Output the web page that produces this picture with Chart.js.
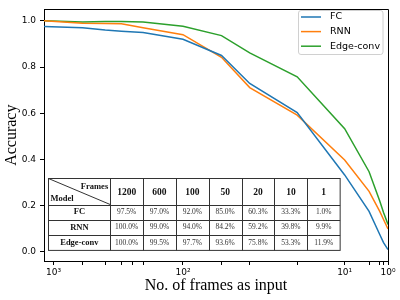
<!DOCTYPE html>
<html>
<head>
<meta charset="utf-8">
<script src="https://cdn.jsdelivr.net/npm/chart.js@4.4.1/dist/chart.umd.min.js"></script>
<style>
  html, body { margin: 0; padding: 0; background: #fff; }
</style>
</head>
<body>
<canvas id="grafico" width="400" height="300"></canvas>
<script>
// Frames at which the curves are sampled
const frames  = [1200, 600, 400, 300, 200, 100, 50, 30, 20, 10, 5, 3, 2, 1];
const fcAcc   = [0.975, 0.970, 0.960, 0.955, 0.950, 0.920, 0.850, 0.729, 0.603, 0.333, 0.175, 0.075, 0.040, 0.010];
const rnnAcc  = [1.000, 0.990, 0.988, 0.987, 0.970, 0.940, 0.842, 0.711, 0.592, 0.398, 0.262, 0.175, 0.140, 0.099];
const edgeAcc = [1.000, 0.995, 0.997, 0.997, 0.995, 0.977, 0.936, 0.861, 0.758, 0.533, 0.347, 0.220, 0.170, 0.119];

// Inset table
const tableFrames = [1200, 600, 100, 50, 20, 10, 1];
const tableModels = ['FC', 'RNN', 'Edge-conv'];
const tableFC   = ['97.5%', '97.0%', '92.0%', '85.0%', '60.3%', '33.3%', '1.0%'];
const tableRNN  = ['100.0%', '99.0%', '94.0%', '84.2%', '59.2%', '39.8%', '9.9%'];
const tableEdge = ['100.0%', '99.5%', '97.7%', '93.6%', '75.8%', '53.3%', '11.9%'];

// The x axis of the original figure is a warped, reversed log axis:
// anchor frames -> position along the axis (0 = left, 1 = right)
const axisFrames = [1200, 1000, 600, 400, 300, 250, 200, 100, 50, 30, 20, 10, 5, 3, 2, 1];
const axisPos    = [0, 0.028, 0.112, 0.178, 0.225, 0.258, 0.288, 0.404, 0.516, 0.598, 0.736, 0.874, 0.945, 0.976, 0.987, 1];
const majorFrames = [1000, 100, 10, 1];
const majorLabels = ['10³', '10²', '10¹', '10⁰'];
const tickFrames  = axisFrames.slice(1);
const yTicks = [0, 0.2, 0.4, 0.6, 0.8, 1.0];

const colores = ['#1f77b4', '#ff7f0e', '#2ca02c'];

// frames -> axis position, interpolating in log space between anchors
function framePos(f) {
    const lf = Math.log10(f);
    for (let i = 0; i < axisFrames.length - 1; i++) {
        const a = Math.log10(axisFrames[i]);
        const b = Math.log10(axisFrames[i + 1]);
        if (lf <= a && lf >= b) {
            return axisPos[i] + (axisPos[i + 1] - axisPos[i]) * (a - lf) / (a - b);
        }
    }
    return lf > Math.log10(axisFrames[0]) ? 0 : 1;
}

function serie(label, valores, color) {
    return {
        label: label,
        data: frames.map((f, i) => ({ x: framePos(f), y: valores[i] })),
        borderColor: color,
        backgroundColor: color,
        borderWidth: 1.5,
        pointRadius: 0,
        tension: 0,
        fill: false
    };
}

// Draws the top/right spines, the legend box and the inset table
const extras = {
    id: 'extras',
    afterDatasetsDraw(chart) {
        const ctx = chart.ctx;
        const a = chart.chartArea;
        ctx.save();

        // top and right spines
        ctx.strokeStyle = '#000';
        ctx.lineWidth = 1;
        ctx.beginPath();
        ctx.moveTo(Math.round(a.left) + 0.5, Math.round(a.top) + 0.5);
        ctx.lineTo(Math.round(a.right) + 0.5, Math.round(a.top) + 0.5);
        ctx.lineTo(Math.round(a.right) + 0.5, Math.round(a.bottom) + 0.5);
        ctx.stroke();

        // legend
        const lx = 298.5, ly = 10.5, lw = 84.5, lh = 44;
        ctx.beginPath();
        ctx.roundRect(lx, ly, lw, lh, 2.5);
        ctx.fillStyle = 'rgba(255,255,255,0.8)';
        ctx.fill();
        ctx.strokeStyle = '#d0d0d0';
        ctx.stroke();
        ctx.font = '9.5px "DejaVu Sans"';
        ctx.textBaseline = 'middle';
        ctx.textAlign = 'left';
        chart.data.datasets.forEach((ds, i) => {
            const y = 17 + i * 14.6;
            ctx.strokeStyle = ds.borderColor;
            ctx.lineWidth = 1.5;
            ctx.beginPath();
            ctx.moveTo(301, y);
            ctx.lineTo(321, y);
            ctx.stroke();
            ctx.fillStyle = '#000';
            ctx.fillText(ds.label, 330, y);
        });

        // inset table
        const tx = 48.5, ty = 178.5, c0 = 61.7, cw = 32.85, hh = 26, rh = 15.3;
        const tw = c0 + cw * tableFrames.length;
        const th = hh + rh * tableModels.length;
        ctx.fillStyle = '#fff';
        ctx.fillRect(tx, ty, tw, th);

        ctx.lineWidth = 1;
        ctx.strokeStyle = '#333';
        ctx.strokeRect(tx, ty, tw, th);
        ctx.beginPath();
        for (let j = 0; j < tableFrames.length; j++) {
            const x = Math.round(tx + c0 + j * cw) + 0.5;
            ctx.moveTo(x, ty);
            ctx.lineTo(x, ty + th);
        }
        for (let r = 0; r < tableModels.length; r++) {
            const y = Math.round(ty + hh + r * rh) + 0.5;
            ctx.moveTo(tx, y);
            ctx.lineTo(tx + tw, y);
        }
        ctx.stroke();
        // diagonal header cell
        ctx.beginPath();
        ctx.moveTo(tx, ty);
        ctx.lineTo(tx + c0, ty + hh);
        ctx.stroke();

        ctx.fillStyle = '#111';
        ctx.font = 'bold 8.5px "Liberation Serif"';
        ctx.textAlign = 'right';
        ctx.fillText('Frames', tx + c0 - 2, ty + 8);
        ctx.textAlign = 'left';
        ctx.fillText('Model', tx + 2, ty + hh - 6);

        ctx.textAlign = 'center';
        ctx.font = 'bold 9.5px "Liberation Serif"';
        tableFrames.forEach((f, j) => {
            ctx.fillText(String(f), tx + c0 + (j + 0.5) * cw, ty + hh / 2 + 1);
        });

        const filas = [tableFC, tableRNN, tableEdge];
        tableModels.forEach((m, r) => {
            const y = ty + hh + (r + 0.5) * rh;
            ctx.font = 'bold 8.5px "Liberation Serif"';
            ctx.fillStyle = '#111';
            ctx.fillText(m, tx + c0 / 2, y);
            ctx.font = '7.5px "Liberation Serif"';
            ctx.fillStyle = '#333';
            filas[r].forEach((v, j) => {
                ctx.fillText(v, tx + c0 + (j + 0.5) * cw, y);
            });
        });

        ctx.restore();
    }
};

const canvas = document.getElementById('grafico');
const miGrafico = new Chart(canvas.getContext('2d'), {
    type: 'line',
    data: {
        datasets: [
            serie('FC', fcAcc, colores[0]),
            serie('RNN', rnnAcc, colores[1]),
            serie('Edge-conv', edgeAcc, colores[2])
        ]
    },
    options: {
        responsive: false,
        animation: false,
        devicePixelRatio: 1,
        layout: { padding: { top: 5, right: 12, left: 0, bottom: 0 } },
        plugins: {
            legend: { display: false },
            tooltip: { enabled: false }
        },
        scales: {
            x: {
                type: 'linear',
                min: 0,
                max: 1,
                afterBuildTicks: axis => {
                    axis.ticks = tickFrames.map(f => ({ value: framePos(f) }));
                },
                afterFit: axis => { axis.height = 39; },
                ticks: {
                    autoSkip: false,
                    maxRotation: 0,
                    padding: 2,
                    color: '#000',
                    font: { family: 'DejaVu Sans', size: 9 },
                    callback: (v, i) => {
                        const k = majorFrames.indexOf(tickFrames[i]);
                        return k >= 0 ? majorLabels[k] : '';
                    }
                },
                grid: {
                    drawOnChartArea: false,
                    tickLength: 4,
                    tickColor: '#000'
                },
                border: { color: '#000', width: 1 },
                title: {
                    display: true,
                    text: 'No. of frames as input',
                    color: '#000',
                    font: { family: 'Liberation Serif', size: 16 },
                    padding: { top: 0, bottom: 5 }
                }
            },
            y: {
                type: 'linear',
                min: -0.0395,
                max: 1.0495,
                afterBuildTicks: axis => {
                    axis.ticks = yTicks.map(v => ({ value: v }));
                },
                afterFit: axis => { axis.width = 44; },
                ticks: {
                    padding: 4,
                    color: '#000',
                    font: { family: 'DejaVu Sans', size: 9 },
                    callback: v => v.toFixed(1)
                },
                grid: {
                    drawOnChartArea: false,
                    tickLength: 4,
                    tickColor: '#000'
                },
                border: { color: '#000', width: 1 },
                title: {
                    display: true,
                    text: 'Accuracy',
                    color: '#000',
                    font: { family: 'Liberation Serif', size: 16 },
                    padding: { top: 2, bottom: 0 }
                }
            }
        }
    },
    plugins: [extras]
});
</script>
</body>
</html>
